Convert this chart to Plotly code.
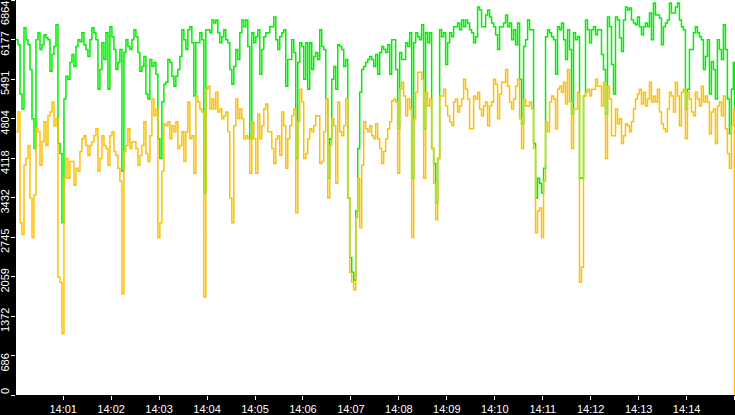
import pandas as pd
import plotly.graph_objects as go

# one sample every 2.5 s from 14:00:01, plus the closing point at 14:15:00
green = [
    6176, 6090, 5230, 4972, 6382, 6176, 6090, 5660, 4800, 4284, 6176, 6296, 6004, 6090, 6262,
    6210, 6176, 5626, 5918, 6056, 6434, 4370, 4198, 2994, 5144, 5540, 5488, 5780, 5918, 5712,
    6056, 6176, 6142, 6296, 6090, 6004, 5884, 6176, 6382, 6296, 6176, 5316, 5660, 6124, 5832,
    6296, 5316, 6400, 6228, 6004, 5660, 5780, 6004, 3888, 5952, 6176, 6056, 6004, 6176, 6348,
    6228, 5952, 5626, 5712, 5884, 5230, 5144, 5832, 5712, 5780, 5574, 4456, 4112, 5092, 5402,
    5436, 5832, 5780, 5540, 5368, 5540, 5660, 5884, 6348, 6176, 6004, 6348, 6400, 6124, 5196,
    6124, 6124, 6296, 6176, 3510, 6348, 6348, 6296, 6520, 6468, 6520, 6296, 6124, 6228, 6348,
    6176, 6124, 5660, 5402, 5712, 6004, 5832, 6296, 6520, 6400, 6520, 6056, 4456, 6296, 6124,
    6228, 6348, 5574, 6004, 6228, 6296, 6296, 6400, 6400, 6572, 6176, 6004, 6228, 6296, 6348,
    5368, 5832, 5832, 6176, 5952, 4112, 5780, 6124, 6056, 5488, 6124, 5316, 6124, 5660, 5884,
    5952, 5832, 6348, 6056, 6004, 5144, 3768, 4456, 5488, 5712, 5316, 6090, 6056, 6004, 5712,
    5832, 3424, 2392, 2134, 1996, 3200, 4284, 5264, 5660, 5712, 5780, 5832, 5884, 5832, 5712,
    5918, 5574, 5952, 6056, 6004, 5952, 6090, 5574, 6176, 6176, 5660, 4628, 5952, 5832, 5832,
    6124, 6056, 6296, 3768, 6124, 6296, 6228, 6176, 6434, 4628, 6296, 6124, 6296, 4284, 4026,
    3338, 4112, 6348, 6228, 6296, 5746, 6124, 6296, 6228, 6400, 6400, 6468, 6348, 6520, 6400,
    6520, 6468, 6348, 6296, 6124, 6228, 6744, 6692, 6400, 6400, 6606, 6692, 6572, 6468, 6400,
    6262, 6004, 6400, 6400, 6468, 6606, 6400, 6468, 6176, 6348, 6090, 6468, 5488, 4714, 6056,
    6176, 6520, 6348, 6348, 4370, 3424, 3768, 3682, 3510, 3940, 6228, 6348, 6296, 6228, 6176,
    5574, 6400, 6348, 6468, 6176, 5832, 6348, 6004, 4886, 6296, 6176, 6228, 3768, 3768, 5196,
    6520, 6348, 6124, 6348, 6400, 6262, 6348, 6348, 5918, 5660, 4886, 6572, 6400, 5746, 5230,
    6572, 6520, 6210, 5970, 6520, 6744, 6692, 6726, 6520, 6468, 6434, 6572, 6400, 6262, 6400,
    6468, 6400, 6640, 6176, 6812, 6606, 6606, 6554, 6090, 6400, 6468, 6520, 6812, 6640, 6640,
    6744, 6812, 6520, 6400, 6348, 4972, 5316, 6004, 6004, 6296, 6400, 6296, 6228, 6176, 5660,
    5884, 6176, 5230, 5798, 5660, 5144, 6176, 6004, 5832, 6434, 6004, 5144, 4542, 5316, 5780,
    2736,
]
orange = [
    4576, 4920, 2994, 2788, 3992, 4112, 4336, 3424, 2736, 3476, 4628, 4576, 3992, 4404, 4748,
    4336, 4852, 4920, 5092, 4680, 4800, 2048, 1962, 1068, 3768, 4112, 3768, 4060, 4060, 3648,
    3940, 3888, 4232, 4456, 4508, 4336, 4164, 4336, 4404, 4508, 4628, 3888, 4112, 4508, 4336,
    4284, 3992, 4508, 4576, 4232, 4164, 3940, 3716, 1756, 4232, 4336, 4628, 4284, 4404, 4404,
    4284, 3992, 4164, 4336, 4748, 4198, 4060, 4508, 5144, 4852, 4972, 2736, 2994, 3888, 4714,
    4680, 4748, 4456, 4680, 4576, 4748, 4284, 4336, 4576, 4060, 4576, 5092, 4456, 4508, 3854,
    5196, 5092, 4972, 4920, 1704, 5316, 5368, 4972, 5144, 4972, 5264, 4920, 4972, 4800, 4852,
    4920, 4576, 3424, 2994, 4680, 5144, 4800, 4972, 4800, 4456, 4508, 4456, 3854, 4748, 4456,
    3854, 4886, 4456, 4680, 4972, 5058, 4576, 4576, 4284, 4026, 4456, 4508, 4164, 4920, 4680,
    3940, 4456, 4680, 4852, 4972, 3166, 4748, 5316, 5092, 4112, 4198, 4456, 4628, 4576, 4680,
    4852, 4852, 4026, 4060, 4576, 5144, 3424, 4336, 4800, 4680, 3682, 5092, 4576, 4508, 4680,
    5144, 3424, 2134, 1962, 1824, 3080, 3768, 2908, 3992, 4748, 4628, 4576, 4680, 4508, 4456,
    4714, 4456, 4284, 4026, 4232, 4456, 4628, 4748, 5110, 5144, 5092, 3854, 5316, 5436, 5196,
    4852, 5144, 4972, 2736, 4800, 5264, 5608, 5608, 5488, 3768, 5264, 5024, 5144, 4284, 3682,
    3046, 4112, 5196, 5196, 5316, 5024, 4852, 4748, 4680, 5092, 5144, 4920, 5024, 5144, 5488,
    5316, 5144, 4628, 4628, 5196, 5144, 5264, 4972, 4852, 5024, 5092, 4680, 5024, 5092, 5488,
    5402, 4800, 5230, 5436, 5436, 5660, 5368, 5092, 4972, 5144, 5368, 5488, 4800, 4284, 5144,
    5024, 5024, 5092, 4972, 4284, 2822, 3200, 3252, 2736, 3716, 4748, 4576, 5092, 5196, 5144,
    4628, 5316, 5368, 5264, 5436, 5058, 5660, 5092, 4284, 4972, 4972, 5264, 1962, 2220, 5196,
    5264, 5316, 5196, 5316, 5316, 5488, 5368, 5368, 5024, 5436, 4112, 5368, 5144, 4508, 4508,
    4972, 4714, 4800, 4370, 4508, 4714, 4680, 4576, 4748, 4972, 5144, 5230, 5316, 5058, 5264,
    5024, 5144, 5436, 5092, 5196, 5092, 5316, 4920, 4714, 4628, 4576, 4972, 5264, 5196, 4920,
    5436, 5196, 4680, 5264, 5316, 4456, 5264, 5144, 4920, 4852, 5264, 5144, 5024, 5368, 5092,
    5196, 5092, 4542, 4920, 4972, 4370, 5024, 5092, 4852, 5196, 4628, 4198, 3940, 4680, 4972,
    0,
]
y_ticks = [0, 686, 1372, 2059, 2745, 3432, 4118, 4804, 5491, 6177, 6864]

times = list(pd.date_range("2024-01-01 14:00:01", periods=len(green) - 1, freq="2500ms"))
times.append(pd.Timestamp("2024-01-01 14:15:00"))

fig = go.Figure()
fig.add_trace(go.Scatter(x=times, y=green, mode="lines", line=dict(color="#00ee00", width=1.5, shape="hv"), name="in"))
fig.add_trace(go.Scatter(x=times, y=orange, mode="lines", line=dict(color="#ffc000", width=1.5, shape="hv"), name="out"))

# rotated y labels: drawn as annotations so they can hang below their ticks like the original
for v in y_ticks:
    ann = dict(xref="paper", x=0, xanchor="right", xshift=-4, yref="y", y=v,
               text=str(v), textangle=-90, showarrow=False, borderpad=0,
               font=dict(family="Liberation Sans", size=11, color="white"))
    if v == 0:
        ann.update(yanchor="bottom", yshift=0)
    elif v == y_ticks[-1]:
        ann.update(yref="paper", y=1, yanchor="top")
    else:
        ann.update(yanchor="bottom", yshift=-17)
    fig.add_annotation(**ann)

fig.update_layout(
    width=735, height=415,
    margin=dict(l=16, r=0, t=0, b=16, pad=0),
    paper_bgcolor="black", plot_bgcolor="white",
    showlegend=False,
    font=dict(family="Liberation Sans", size=11, color="white"),
)
fig.update_xaxes(
    range=["2024-01-01 14:00:01", "2024-01-01 14:15:00.5"],
    tick0="2024-01-01 14:00:00", dtick=60000, tickformat="%H:%M",
    showgrid=False, zeroline=False, showline=False,
    ticks="outside", ticklen=4, tickcolor="white",
)
fig.update_yaxes(
    range=[0, 6866],
    tickvals=y_ticks, showticklabels=False,
    showgrid=False, zeroline=False, showline=False,
    ticks="outside", ticklen=4, tickcolor="white",
)

fig.write_html("out.html", config={"displayModeBar": False},
               post_script="document.body.style.margin='0px';")
